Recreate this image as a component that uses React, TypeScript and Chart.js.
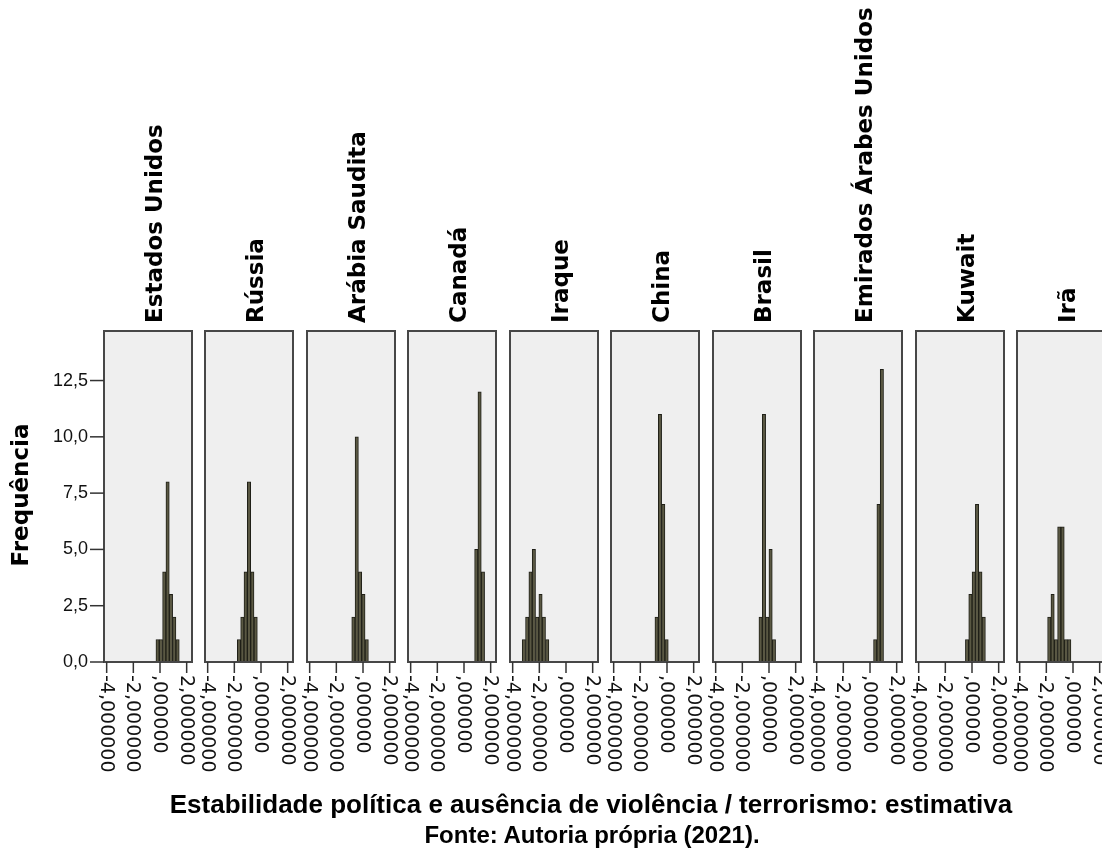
import React, { useEffect, useRef } from "react";
import { Chart, registerables } from "chart.js";

Chart.register(...registerables);

// ---------- data ----------
const countries = [
  "Estados Unidos",
  "Rússia",
  "Arábia Saudita",
  "Canadá",
  "Iraque",
  "China",
  "Brasil",
  "Emirados Árabes Unidos",
  "Kuwait",
  "Irã",
];

// histogram bin centres (estimate) and frequencies, per country
const estadosUnidosX = [-0.18, 0.07, 0.32, 0.57, 0.82, 1.07, 1.32];
const estadosUnidosY = [1, 1, 4, 8, 3, 2, 1];
const russiaX = [-1.65, -1.4, -1.15, -0.9, -0.65, -0.4];
const russiaY = [1, 2, 4, 8, 4, 2];
const arabiaSauditaX = [-0.72, -0.47, -0.22, 0.03, 0.28];
const arabiaSauditaY = [2, 10, 4, 3, 1];
const canadaX = [0.92, 1.17, 1.42];
const canadaY = [5, 12, 4];
const iraqueX = [-3.16, -2.91, -2.66, -2.41, -2.16, -1.91, -1.66, -1.41];
const iraqueY = [1, 2, 4, 5, 2, 3, 2, 1];
const chinaX = [-0.78, -0.53, -0.28, -0.03];
const chinaY = [2, 11, 7, 1];
const brasilX = [-0.63, -0.38, -0.13, 0.12, 0.37];
const brasilY = [2, 11, 2, 5, 1];
const emiradosX = [0.39, 0.64, 0.89];
const emiradosY = [1, 7, 13];
const kuwaitX = [-0.37, -0.12, 0.13, 0.38, 0.63, 0.88];
const kuwaitY = [1, 3, 4, 7, 4, 2];
const iraX = [-1.78, -1.53, -1.28, -1.03, -0.78, -0.53, -0.28];
const iraY = [2, 3, 1, 6, 6, 1, 1];

const seriesX = [estadosUnidosX, russiaX, arabiaSauditaX, canadaX, iraqueX, chinaX, brasilX, emiradosX, kuwaitX, iraX];
const seriesY = [estadosUnidosY, russiaY, arabiaSauditaY, canadaY, iraqueY, chinaY, brasilY, emiradosY, kuwaitY, iraY];

const xTickValues = [-4, -2, 0, 2];
const xTickLabels = ["-4,000000", "-2,000000", ",000000", "2,000000"];
const yTickValues = [0, 2.5, 5, 7.5, 10, 12.5];
const yTickLabels = ["0,0", "2,5", "5,0", "7,5", "10,0", "12,5"];

const xAxisTitle = "Estabilidade política e ausência de violência / terrorismo: estimativa";
const yAxisTitle = "Frequência";
const sourceText = "Fonte: Autoria própria (2021).";

// ---------- layout ----------
const X_MIN = -4.2;
const X_MAX = 2.4;
const Y_MAX = 14.7;
const FIRST_LEFT = 104;
const STEP = 101.44;
const PANEL_W = 88;
const PANEL_TOP = 331;
const PANEL_BOTTOM = 662;
const CANVAS_H = 853;
const SIDE = 14;

function makePlugin(index: number) {
  return {
    id: "panelDecor" + index,
    beforeDatasetsDraw(chart: any) {
      const { ctx, chartArea: a } = chart;
      ctx.save();
      ctx.fillStyle = "#efefef";
      ctx.fillRect(a.left, a.top, a.right - a.left, a.bottom - a.top);
      ctx.restore();
    },
    afterDatasetsDraw(chart: any) {
      const { ctx, chartArea: a, scales } = chart;
      const xs = scales.x;
      const ys = scales.y;
      ctx.save();
      // frame
      ctx.strokeStyle = "#474747";
      ctx.lineWidth = 2;
      ctx.strokeRect(a.left, a.top, a.right - a.left, a.bottom - a.top);

      // x ticks
      ctx.strokeStyle = "#333";
      ctx.lineWidth = 1.5;
      ctx.fillStyle = "#111";
      ctx.font = '19px "DejaVu Sans"';
      xTickValues.forEach((v, k) => {
        const px = xs.getPixelForValue(v);
        ctx.beginPath();
        ctx.moveTo(px, a.bottom);
        ctx.lineTo(px, a.bottom + 11);
        ctx.stroke();
        ctx.save();
        ctx.translate(px - 1, a.bottom + 13);
        ctx.rotate(Math.PI / 2);
        ctx.textAlign = "left";
        ctx.textBaseline = "middle";
        ctx.fillText(xTickLabels[k], 0, 0);
        ctx.restore();
      });

      // country label
      const cx = (a.left + a.right) / 2;
      ctx.save();
      ctx.translate(cx + 14, a.top - 8);
      ctx.rotate(-Math.PI / 2);
      ctx.font = 'bold 23px "DejaVu Sans"';
      ctx.fillStyle = "#000";
      ctx.textAlign = "left";
      ctx.textBaseline = "alphabetic";
      ctx.fillText(countries[index], 0, 0);
      ctx.restore();

      if (index === 0) {
        // y ticks
        ctx.strokeStyle = "#333";
        ctx.lineWidth = 1.5;
        ctx.font = '18px "Liberation Sans"';
        ctx.fillStyle = "#111";
        ctx.textAlign = "right";
        ctx.textBaseline = "middle";
        yTickValues.forEach((v, k) => {
          const py = ys.getPixelForValue(v);
          ctx.beginPath();
          ctx.moveTo(a.left - 14, py);
          ctx.lineTo(a.left, py);
          ctx.stroke();
          ctx.fillText(yTickLabels[k], a.left - 16, py);
        });
        // y title
        ctx.save();
        ctx.translate(22, 495);
        ctx.rotate(-Math.PI / 2);
        ctx.font = 'bold 23px "DejaVu Sans"';
        ctx.fillStyle = "#000";
        ctx.textAlign = "center";
        ctx.textBaseline = "middle";
        ctx.fillText(yAxisTitle, 0, 0);
        ctx.restore();
      }
      ctx.restore();
    },
  };
}

function Panel({ index }: { index: number }) {
  const ref = useRef<HTMLCanvasElement>(null);
  const panelLeft = Math.round(FIRST_LEFT + index * STEP);
  const canvasLeft = index === 0 ? 0 : panelLeft - SIDE;
  const padLeft = panelLeft - canvasLeft;
  const canvasW = padLeft + PANEL_W + SIDE;

  useEffect(() => {
    if (!ref.current) return;
    const xsArr = seriesX[index];
    const ysArr = seriesY[index];
    const chart = new Chart(ref.current, {
      type: "bar",
      data: {
        datasets: [
          {
            data: xsArr.map((x, i) => ({ x, y: ysArr[i] })),
            backgroundColor: "#5a5843",
            borderColor: "#1f1f17",
            borderWidth: 1,
            barPercentage: 1,
            categoryPercentage: 1,
          } as any,
        ],
      },
      options: {
        responsive: false,
        animation: false,
        events: [],
        layout: {
          padding: {
            left: padLeft,
            right: SIDE,
            top: PANEL_TOP,
            bottom: CANVAS_H - PANEL_BOTTOM,
          },
        },
        plugins: {
          legend: { display: false },
          tooltip: { enabled: false },
        },
        scales: {
          x: {
            type: "linear",
            min: X_MIN,
            max: X_MAX,
            display: false,
            offset: false,
            afterBuildTicks: (scale: any) => {
              scale.ticks = xTickValues.map((v) => ({ value: v }));
            },
          },
          y: {
            type: "linear",
            min: 0,
            max: Y_MAX,
            display: false,
          },
        },
      } as any,
      plugins: [makePlugin(index)],
    });
    return () => chart.destroy();
  }, [index]);

  return (
    <canvas
      ref={ref}
      width={canvasW}
      height={CANVAS_H}
      style={{ position: "absolute", left: canvasLeft, top: 0, width: canvasW, height: CANVAS_H, display: "block" }}
    />
  );
}

export default function App() {
  return (
    <div
      style={{
        position: "absolute",
        left: 0,
        top: 0,
        width: 1102,
        height: 853,
        overflow: "hidden",
        background: "#fff",
      }}
    >
      {countries.map((c, i) => (
        <Panel key={c} index={i} />
      ))}
      <div
        style={{
          position: "absolute",
          left: 591,
          top: 791,
          transform: "translateX(-50%)",
          whiteSpace: "nowrap",
          font: 'bold 26px/26px "Liberation Sans", Arial, sans-serif',
          color: "#000",
        }}
      >
        {xAxisTitle}
      </div>
      <div
        style={{
          position: "absolute",
          left: 592,
          top: 823,
          transform: "translateX(-50%)",
          whiteSpace: "nowrap",
          font: 'bold 24px/24px "Liberation Sans", Arial, sans-serif',
          color: "#000",
        }}
      >
        {sourceText}
      </div>
    </div>
  );
}
